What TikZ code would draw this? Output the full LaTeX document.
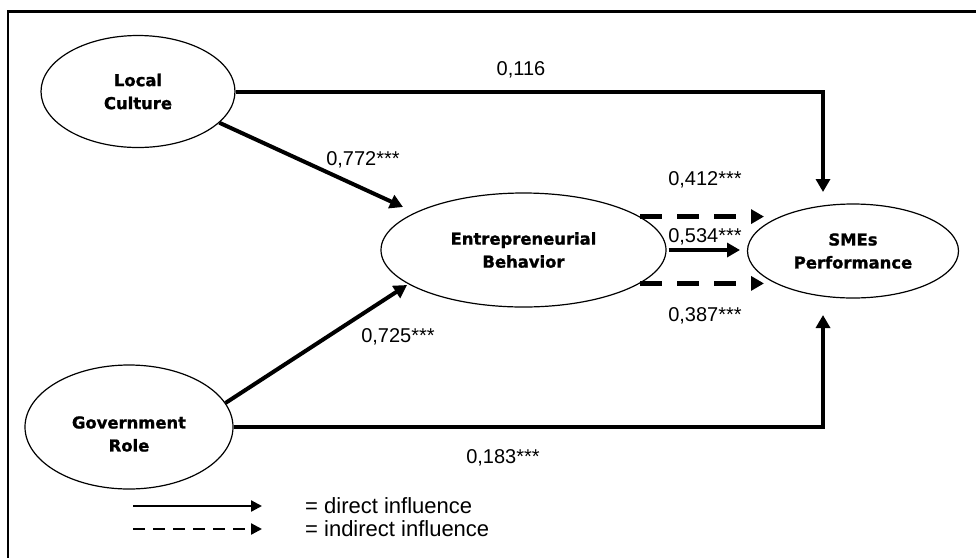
\documentclass[tikz,border=0pt]{standalone}
\usepackage{fontspec}
\setmainfont{Liberation Sans}
\newfontfamily\vfont[BoldFeatures={FakeBold=1.2}]{DejaVu Sans}
\usetikzlibrary{arrows.meta,shapes.geometric}
\begin{document}
\begin{tikzpicture}[x=1pt,y=-1pt,
  ell/.style={ellipse,draw,line width=1.2pt,inner sep=0pt,align=center,
    font=\vfont\bfseries\fontsize{16.4}{23}\selectfont},
  lbl/.style={align=center,inner sep=0pt,font=\vfont\bfseries\fontsize{16.4}{23}\selectfont},
  num/.style={anchor=base,inner sep=0pt,font=\fontsize{20}{23}\selectfont},
  leg/.style={anchor=base west,inner sep=0pt,font=\fontsize{22}{24}\selectfont},
  direct/.style={line width=4pt,-{Triangle[length=13pt,width=14pt]}},
  indirect/.style={line width=4.5pt,dash pattern=on 22pt off 15pt,-{Triangle[length=13pt,width=14pt]}},
  legdirect/.style={line width=2.3pt,-{Triangle[length=11pt,width=11pt]}},
  legindirect/.style={line width=2.3pt,dash pattern=on 12pt off 8pt,-{Triangle[length=11pt,width=11pt]}},
]
\useasboundingbox (0,0) rectangle (976,558);
\fill[white] (0,0) rectangle (976,558);
% frame
\draw[line width=3pt] (7,11) -- (976,11);
\draw[line width=2pt] (8,10) -- (8,558);

% nodes
\node[ell,minimum width=194pt,minimum height=112pt] (LC) at (138,91.5) {Local\\Culture};
\node[ell,minimum width=285pt,minimum height=114pt] (EB) at (523.5,250) {Entrepreneurial\\Behavior};
\node[ell,minimum width=211pt,minimum height=94pt] (SM) at (853,251) {SMEs\\Performance};
\node[ell,minimum width=208pt,minimum height=124pt] (GR) at (129,427) {};
\node[lbl] (GRt) at (129,434) {Government\\Role};

% connector end points
\coordinate (tA) at (823,192);
\coordinate (tB) at (823,315);
\coordinate (tC) at (403,207);
\coordinate (tD) at (407,285);
\coordinate (tE) at (764,217);
\coordinate (tF) at (740,251);
\coordinate (tG) at (764,284);

% connectors
\draw[direct] (LC.east) -| (tA);
\draw[direct] (GR.east) -| (tB);
\draw[direct] (LC.-21) -- (tC);
\draw[direct] (GR.14) -- (tD);
\draw[indirect] (EB.16) -- (EB.16 -| tE);
\draw[direct] ([xshift=2pt]EB.east) -- (EB.east -| tF);
\draw[indirect] (EB.-16) -- (EB.-16 -| tG);

% labels
\node[num] (n1) at (521,75) {0,116};
\node[num] (n2) at (363,165) {0,772***};
\node[num] (n3) at (398,342) {0,725***};
\node[num] (n4) at (503,463) {0,183***};
\node[num] (n5) at (705,185) {0,412***};
\node[num] (n6) at (705,242) {0,534***};
\node[num] (n7) at (705,321) {0,387***};

% legend
\coordinate (l1) at (133,506);
\coordinate (l2) at (262,506);
\coordinate (l3) at (133,529);
\coordinate (l4) at (262,529);
\draw[legdirect] (l1) -- (l2);
\draw[legindirect] (l3) -- (l4);
\node[leg] (ld) at (305,513) {= direct influence};
\node[leg] (li) at (305,536) {= indirect influence};
\end{tikzpicture}
\end{document}
